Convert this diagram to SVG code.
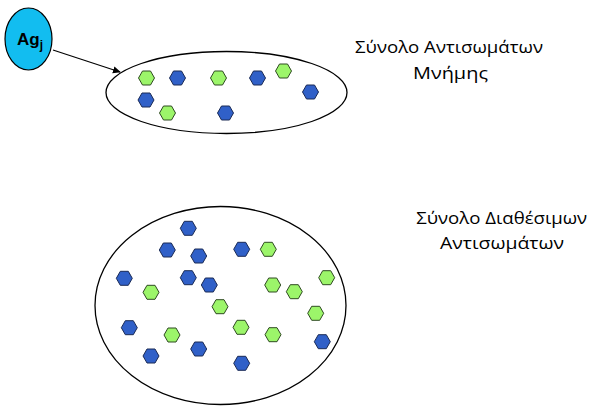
<svg xmlns="http://www.w3.org/2000/svg" width="593" height="406" viewBox="0 0 593 406">
<style>
.set{fill:#fff;stroke:#000;stroke-width:1.3}
.b{fill:#3060C8;stroke:#1a2a55;stroke-width:1}
.g{fill:#9CF56A;stroke:#2f4a22;stroke-width:1}
.lbl{font-family:"Open Sans","Noto Sans","DejaVu Sans",sans-serif;font-size:17px;fill:#000;text-anchor:middle}
.conn{stroke:#000;stroke-width:1.2;fill:none}
</style>
<defs>
<polygon id="hex" points="-8,0 -4,-7 4,-7 8,0 4,7 -4,7"/>
<marker id="arr" markerWidth="8" markerHeight="8" refX="7" refY="4" orient="auto" markerUnits="userSpaceOnUse">
<path d="M0,0.5 L8,4 L0,7.5 Z" fill="#000"/>
</marker>
</defs>
<rect width="593" height="406" fill="#fff"/>
<g id="connectors">
<line class="conn" x1="53" y1="50" x2="120" y2="72" marker-end="url(#arr)"/>
</g>
<g id="agj">
<ellipse cx="28.5" cy="39" rx="23.5" ry="31" fill="#12BDF0" stroke="#000" stroke-width="1.2"/>
<text x="30" y="45" font-family="'Liberation Sans',Arial,sans-serif" font-weight="bold" font-size="17" text-anchor="middle" fill="#000">Ag<tspan font-size="12" dy="4">j</tspan></text>
</g>
<g id="memory-set">
<ellipse class="set" cx="226.5" cy="92.5" rx="120.5" ry="41"/>
<use href="#hex" class="g" x="146.5" y="78"/>
<use href="#hex" class="b" x="177.5" y="78"/>
<use href="#hex" class="g" x="218.5" y="78"/>
<use href="#hex" class="b" x="257.5" y="78"/>
<use href="#hex" class="g" x="283.5" y="71"/>
<use href="#hex" class="b" x="310.5" y="92"/>
<use href="#hex" class="b" x="146" y="100"/>
<use href="#hex" class="g" x="167.5" y="113"/>
<use href="#hex" class="b" x="225.5" y="113"/>
</g>
<g id="memory-label">
<text class="lbl" x="449" y="53" textLength="188" lengthAdjust="spacingAndGlyphs">Σύνολο Αντισωμάτων</text>
<text class="lbl" x="450.5" y="78.5" textLength="75" lengthAdjust="spacingAndGlyphs">Μνήμης</text>
</g>
<g id="available-set">
<ellipse class="set" cx="220.5" cy="305.5" rx="125.5" ry="99"/>
<use href="#hex" class="b" x="188.3" y="228.3"/>
<use href="#hex" class="b" x="167.3" y="250"/>
<use href="#hex" class="b" x="198.7" y="256"/>
<use href="#hex" class="b" x="241.7" y="249.3"/>
<use href="#hex" class="g" x="268.3" y="249.3"/>
<use href="#hex" class="b" x="124.3" y="278.3"/>
<use href="#hex" class="b" x="188.3" y="277.7"/>
<use href="#hex" class="b" x="209.3" y="285"/>
<use href="#hex" class="g" x="151" y="292.3"/>
<use href="#hex" class="g" x="272.7" y="285"/>
<use href="#hex" class="g" x="294.3" y="291.7"/>
<use href="#hex" class="g" x="326.7" y="277.7"/>
<use href="#hex" class="g" x="220" y="306.7"/>
<use href="#hex" class="g" x="315.7" y="313.3"/>
<use href="#hex" class="b" x="129.3" y="327.7"/>
<use href="#hex" class="g" x="172" y="335"/>
<use href="#hex" class="g" x="241" y="327.3"/>
<use href="#hex" class="g" x="273" y="334.7"/>
<use href="#hex" class="b" x="322.3" y="341.7"/>
<use href="#hex" class="b" x="151" y="356"/>
<use href="#hex" class="b" x="198.7" y="349"/>
<use href="#hex" class="b" x="241.7" y="363.3"/>
</g>
<g id="available-label">
<text class="lbl" x="501.7" y="223.5" textLength="171" lengthAdjust="spacingAndGlyphs">Σύνολο Διαθέσιμων</text>
<text class="lbl" x="502" y="248.5" textLength="124" lengthAdjust="spacingAndGlyphs">Αντισωμάτων</text>
</g>
</svg>
